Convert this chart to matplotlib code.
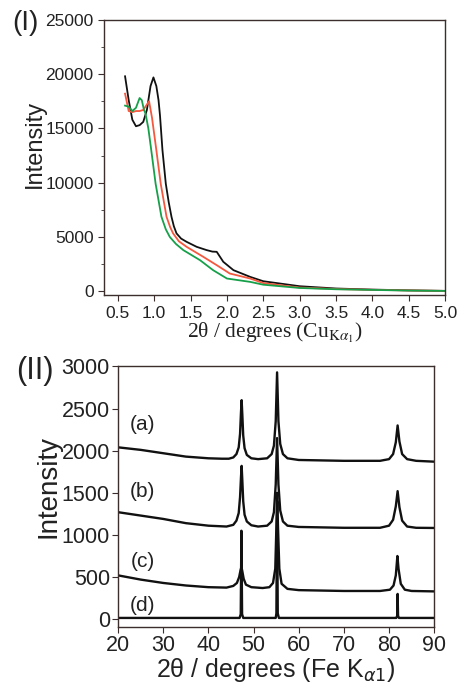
import numpy as np
import matplotlib
matplotlib.use('Agg')
import matplotlib.pyplot as plt
from matplotlib.ticker import MultipleLocator, FormatStrFormatter

plt.rcParams['font.family'] = ['Liberation Sans', 'DejaVu Sans']

# (I) low-angle scans, Cu K-alpha1
tth_black = [0.60, 0.65, 0.70, 0.75, 0.80, 0.85, 0.90, 0.95, 0.99, 1.03, 1.06, 1.08,
             1.114, 1.16, 1.20, 1.238, 1.27, 1.307, 1.37, 1.446, 1.584, 1.72, 1.80, 1.86,
             1.95, 2.09, 2.32, 2.50, 3.00, 3.50, 4.00, 4.50, 5.00]
int_black = [19800, 17600, 15800, 15200, 15300, 15600, 16700, 18900, 19700, 18900, 17600, 16200,
             13000, 9900, 8200, 6860, 6000, 5330, 4850, 4550, 4090, 3790, 3650, 3630,
             2710, 1940, 1320, 920, 460, 250, 150, 80, 30]

tth_red = [0.60, 0.65, 0.70, 0.75, 0.80, 0.85, 0.90, 0.93, 0.97, 1.03, 1.09, 1.17,
           1.22, 1.26, 1.34, 1.446, 1.675, 1.86, 2.04, 2.32, 2.50, 3.00, 3.50, 4.00,
           4.50, 5.00]
int_red = [18200, 16600, 16500, 16600, 16600, 16700, 17200, 17500, 16000, 13000, 9900, 6860,
           5900, 5330, 4600, 4090, 3170, 2400, 1630, 1170, 750, 340, 200, 130,
           70, 30]

tth_green = [0.60, 0.65, 0.70, 0.75, 0.80, 0.83, 0.86, 0.88, 0.92, 0.96, 1.02, 1.10,
             1.16, 1.215, 1.30, 1.40, 1.63, 1.81, 2.00, 2.32, 2.50, 3.00, 3.50, 4.00,
             4.50, 5.00]
int_green = [17100, 17000, 16600, 16900, 17800, 17600, 16700, 16400, 15000, 13000, 9900, 6860,
             5700, 5000, 4350, 3790, 2860, 1940, 1170, 860, 600, 300, 180, 120,
             60, 30]

# (II) wide-angle patterns, Fe K-alpha1, offset vertically
tth_a = [20, 25, 30, 35, 40, 43, 44.5, 45.5, 46.2, 46.7, 47.0, 47.2, 47.35, 47.5, 47.7,
         48.0, 48.5, 49.5, 51, 53, 54, 54.5, 54.9, 55.2, 55.5, 55.9, 56.5, 57.5, 60, 70,
         78, 80, 80.9, 81.5, 81.9, 82.3, 82.9, 84, 86, 90]
int_a = [2040, 2010, 1970, 1930, 1910, 1905, 1905, 1920, 1960, 2040, 2200, 2450, 2600, 2430, 2180,
         2030, 1950, 1910, 1900, 1910, 1960, 2060, 2350, 2930, 2350, 2080, 1960, 1910, 1890, 1880,
         1880, 1900, 1960, 2100, 2300, 2110, 1960, 1900, 1880, 1870]

tth_b = [20, 25, 30, 35, 40, 44, 45.5, 46.2, 46.7, 47.0, 47.2, 47.35, 47.5, 47.7, 48.0,
         48.5, 49.5, 51, 53, 54, 54.5, 54.9, 55.2, 55.5, 55.9, 56.5, 57.5, 60, 70, 78,
         80, 80.9, 81.5, 81.9, 82.3, 82.9, 84, 86, 90]
int_b = [1270, 1230, 1190, 1140, 1110, 1100, 1120, 1170, 1260, 1450, 1680, 1820, 1650, 1400, 1240,
         1160, 1115, 1100, 1110, 1160, 1270, 1600, 2150, 1600, 1290, 1160, 1110, 1095, 1085, 1085,
         1110, 1180, 1340, 1520, 1330, 1170, 1100, 1085, 1083]

tth_c = [20, 25, 30, 35, 40, 44, 45.5, 46.3, 46.8, 47.1, 47.3, 47.5, 47.8, 48.3, 49.5,
         52, 53.5, 54.3, 54.8, 55.1, 55.25, 55.4, 55.7, 56.2, 57.5, 60, 70, 78, 80.2, 81.0,
         81.5, 81.85, 82.1, 82.6, 83.5, 85, 90]
int_c = [520, 470, 430, 400, 380, 375, 395, 430, 500, 580, 620, 570, 480, 410, 380,
         370, 380, 430, 600, 1200, 1400, 1100, 600, 420, 360, 345, 335, 335, 350, 400,
         520, 750, 600, 420, 350, 335, 330]

tth_d = [20, 46.9, 47.15, 47.3, 47.45, 47.7, 54.9, 55.05, 55.2, 55.35, 55.6,
         81.6, 81.8, 81.9, 82.0, 82.2, 90]
int_d = [15, 15, 60, 1050, 60, 15, 15, 70, 1500, 70, 15,
         15, 40, 300, 40, 15, 15]

labels_II = ['(a)', '(b)', '(c)', '(d)']
label_y_II = [2310, 1520, 680, 165]

spine_col = '#3b2e2c'
text_col = '#222222'

fig = plt.figure(figsize=(4.58, 6.85), dpi=100)

# ---- panel I
ax1 = fig.add_axes([0.227, 0.569, 0.745, 0.402])
ax1.plot(tth_black, int_black, color='#111111', lw=1.3)
ax1.plot(tth_red, int_red, color='#f4583e', lw=1.3)
ax1.plot(tth_green, int_green, color='#17a04a', lw=1.3)
ax1.set_xlim(0.31, 5.0)
ax1.set_ylim(-370, 25000)
ax1.xaxis.set_major_locator(MultipleLocator(0.5))
ax1.xaxis.set_major_formatter(FormatStrFormatter('%.1f'))
ax1.yaxis.set_major_locator(MultipleLocator(5000))
ax1.yaxis.set_minor_locator(MultipleLocator(2500))
ax1.tick_params(which='both', direction='out', labelsize=12.5, colors=spine_col, labelcolor=text_col)
ax1.tick_params(which='major', length=4)
ax1.tick_params(which='minor', length=2.5)
for s in ax1.spines.values():
    s.set_color(spine_col)
    s.set_linewidth(1.0)
ax1.set_ylabel('Intensity', fontsize=17, color=text_col)
ax1.yaxis.set_label_coords(-0.17, 0.55)
ax1.set_xlabel(r'2θ / degrees (Cu$_{\mathrm{K}\alpha_1}$)', fontsize=15.5, color=text_col,
               family=['Liberation Serif', 'DejaVu Serif'], math_fontfamily='stix', labelpad=0)
fig.text(0.026, 0.985, '(I)', fontsize=20, color=text_col, va='top')

# ---- panel II
ax2 = fig.add_axes([0.258, 0.085, 0.690, 0.380])
for xs, ys in [(tth_a, int_a), (tth_b, int_b), (tth_c, int_c), (tth_d, int_d)]:
    ax2.plot(xs, ys, color='#111111', lw=1.7)
for lab, ly in zip(labels_II, label_y_II):
    ax2.text(25.4, ly, lab, fontsize=15, ha='center', va='center', color=text_col)
ax2.set_xlim(20, 90)
ax2.set_ylim(-90, 3000)
ax2.xaxis.set_major_locator(MultipleLocator(10))
ax2.yaxis.set_major_locator(MultipleLocator(500))
ax2.tick_params(which='both', direction='out', labelsize=15.5, colors=spine_col, labelcolor=text_col)
ax2.tick_params(which='major', length=4, pad=2)
for s in ax2.spines.values():
    s.set_color(spine_col)
    s.set_linewidth(1.0)
ax2.set_ylabel('Intensity', fontsize=20, color=text_col)
ax2.yaxis.set_label_coords(-0.18, 0.54)
ax2.set_xlabel(r'2θ / degrees (Fe K$_{\alpha1}$)', fontsize=18, color=text_col,
               math_fontfamily='dejavusans', labelpad=0)
fig.text(0.035, 0.48, '(II)', fontsize=22, color=text_col, va='top')

fig.savefig('out.png', dpi=100)
